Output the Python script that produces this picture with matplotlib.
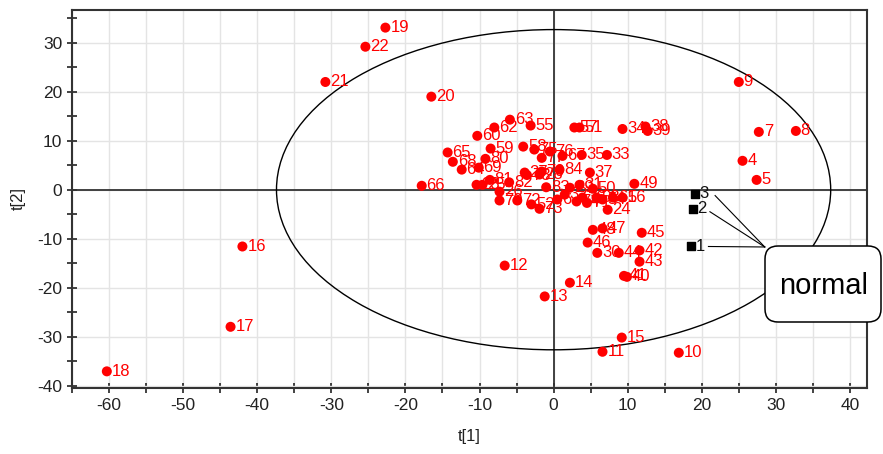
import matplotlib
matplotlib.use("Agg")
import matplotlib.pyplot as plt
from matplotlib.patches import Ellipse, FancyBboxPatch
from matplotlib.ticker import MultipleLocator
from matplotlib.transforms import IdentityTransform

plt.rcParams['font.family'] = ['Liberation Sans', 'DejaVu Sans']
plt.rcParams['axes.unicode_minus'] = False

# scores of the red observations
red_labels = ['4', '5', '7', '8', '9', '10', '11', '12', '13', '14', '15', '16', '17', '18',
              '19', '20', '21', '22', '24', '30', '33', '34', '35', '37', '38', '39', '40',
              '41', '42', '43', '44', '45', '46', '47', '48', '49', '50', '51', '52', '55',
              '56', '57', '58', '59', '60', '62', '63', '64', '65', '66', '67', '68', '69',
              '70', '72', '73', '76', '80', '81', '84',
              '23', '25', '26', '27', '28', '29', '31', '32', '36', '53', '54', '61', '71',
              '74', '75', '77', '78', '79', '82', '83', '6']
red_t1 = [25.5, 27.4, 27.7, 32.7, 25.0, 16.9, 6.6, -6.6, -1.2, 2.2, 9.2, -42.0, -43.6, -60.3,
          -22.7, -16.5, -30.8, -25.4, 7.3, 5.9, 7.2, 9.3, 3.8, 4.9, 12.4, 12.7, 9.9,
          9.5, 11.6, 11.6, 8.8, 11.9, 4.6, 6.6, 5.3, 10.9, 5.3, 3.5, -3.0, -3.1,
          9.3, 2.8, -4.1, -8.5, -10.3, -8.0, -5.9, -12.4, -14.3, -17.8, 1.2, -13.6, -10.1,
          -7.3, -4.9, -1.9, -0.5, -9.2, -8.6, 0.8,
          -10.4, -9.6, -7.3, -3.9, -1.9, 2.2, 3.5, 1.5, 3.9, 5.8, 6.6, 8.0, 4.5,
          3.1, -2.6, -1.6, -3.6, -1.6, -6.0, -1.0, 0.5]
red_t2 = [5.9, 2.0, 11.8, 12.0, 22.0, -33.3, -33.1, -15.5, -21.8, -19.0, -30.2, -11.6, -28.0, -37.1,
          33.1, 19.0, 22.0, 29.2, -4.1, -12.9, 7.1, 12.4, 7.1, 3.5, 12.9, 12.0, -17.8,
          -17.6, -12.4, -14.7, -12.9, -8.8, -10.8, -7.9, -8.2, 1.2, 0.2, 12.7, -3.0, 13.1,
          -1.6, 12.7, 8.8, 8.4, 11.0, 12.7, 14.3, 4.1, 7.6, 0.8, 6.9, 5.7, 4.5,
          -2.2, -2.2, -3.9, 7.8, 6.3, 2.0, 4.1,
          1.0, 1.0, -0.4, 3.5, 3.1, 0.4, 1.0, -1.0, -1.6, -1.6, -2.0, -1.6, -2.7,
          -2.4, 8.2, 6.5, 3.0, 3.7, 1.5, 0.5, -2.0]

# the three "normal" observations
normal_labels = ['1', '2', '3']
normal_t1 = [18.6, 18.8, 19.1]
normal_t2 = [-11.6, -3.9, -0.8]

# Hotelling T2 ellipse half axes
ellipse_t1 = 37.4
ellipse_t2 = 32.7

fig = plt.figure(figsize=(8.83, 4.54), dpi=100)
ax = fig.add_axes([72 / 883, 1 - 388 / 454, (867 - 72) / 883, (388 - 10) / 454])

ax.set_xlim(-65, 42.3)
ax.set_ylim(-40.5, 36.7)
ax.xaxis.set_major_locator(MultipleLocator(10))
ax.xaxis.set_minor_locator(MultipleLocator(5))
ax.yaxis.set_major_locator(MultipleLocator(10))
ax.yaxis.set_minor_locator(MultipleLocator(5))
ax.grid(True, which='major', axis='y', color='#e4e4e4', lw=1, zorder=0)
ax.grid(True, which='both', axis='x', color='#e4e4e4', lw=1, zorder=0)
ax.set_axisbelow(True)
ax.tick_params(which='both', direction='inout', length=7, width=1.2, labelsize=12.5,
               colors='#222222')
for sp in ax.spines.values():
    sp.set_linewidth(1.5)
    sp.set_color('#333333')

ax.axhline(0, color='#333333', lw=1.3, zorder=1)
ax.axvline(0, color='#333333', lw=1.3, zorder=1)

ax.add_patch(Ellipse((0, 0), 2 * ellipse_t1, 2 * ellipse_t2, fill=False,
                     ec='black', lw=1.0, zorder=2))

ax.scatter(red_t1, red_t2, s=52, color='#ff0000', edgecolors='none', zorder=3)
for lab, x, y in zip(red_labels, red_t1, red_t2):
    ax.annotate(lab, (x, y), xytext=(3.5, 0), textcoords='offset points',
                color='#ff0000', fontsize=12, va='center', ha='left', zorder=4)

ax.scatter(normal_t1, normal_t2, s=26, marker='s', color='black', zorder=3)
for lab, x, y in zip(normal_labels, normal_t1, normal_t2):
    ax.annotate(lab, (x, y), xytext=(3, 0), textcoords='offset points',
                color='#111111', fontsize=12, va='center', ha='left', zorder=4)

# leader lines from the labels to the callout
line_start_t1 = [20.9, 21.1, 21.8]
line_start_t2 = [-11.6, -4.5, -1.2]
for x, y in zip(line_start_t1, line_start_t2):
    ax.plot([x, 28.5], [y, -11.7], color='black', lw=0.8, zorder=4, clip_on=False)

ax.set_xlabel('t[1]', fontsize=12, color='#222222', labelpad=12)
ax.set_ylabel('t[2]', fontsize=12, color='#222222', labelpad=8)

box = FancyBboxPatch((765, 454 - 322), 116, 76, boxstyle='round,pad=0,rounding_size=13',
                     transform=IdentityTransform(), fc='white', ec='black', lw=1.1)
fig.add_artist(box)
fig.text(824 / 883, 1 - 286 / 454, 'normal', fontsize=21, ha='center', va='center')

fig.savefig('out.png', dpi=100)
